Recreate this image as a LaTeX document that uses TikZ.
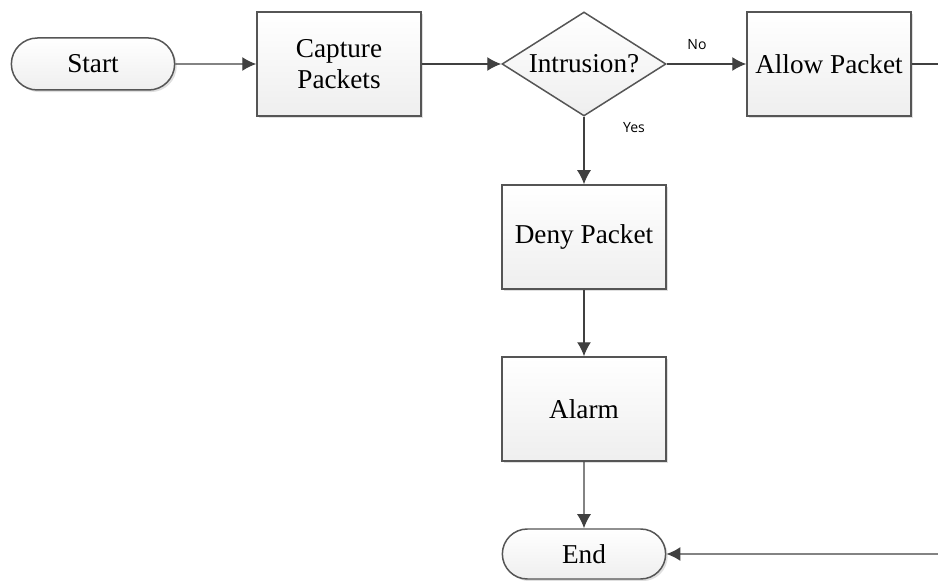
\documentclass[tikz,border=0pt]{standalone}
\usepackage{fontspec}
\setmainfont{Liberation Serif}
\newfontfamily\labelfont{Open Sans}
\usetikzlibrary{shapes.geometric,shapes.misc,arrows.meta,shadows}
\definecolor{linegray}{HTML}{404040}
\definecolor{boxgray}{HTML}{555555}
\begin{document}
\begin{tikzpicture}[
    >={Latex[length=2.8mm,width=2.8mm]},
    every node/.style={font=\fontsize{15.5}{18}\selectfont},
    process/.style={rectangle, draw=boxgray, line width=0.85pt, top color=white, bottom color=gray!13,
        minimum width=3.28cm, minimum height=2.08cm, align=center,
        drop shadow={shadow xshift=1.2pt, shadow yshift=-1.2pt, opacity=0.25, fill=gray}},
    terminal/.style={rounded rectangle, draw=boxgray, line width=0.85pt, top color=white, bottom color=gray!13,
        minimum width=3.5cm, minimum height=1.04cm,
        drop shadow={shadow xshift=1.2pt, shadow yshift=-1.2pt, opacity=0.25, fill=gray}},
    decision/.style={diamond, draw=boxgray, line width=0.85pt, top color=white, bottom color=gray!13,
        minimum width=3.28cm, minimum height=2.08cm, inner sep=0pt, aspect=1.58},
    edge/.style={->, draw=linegray, line width=0.8pt},
    edgelabel/.style={font=\labelfont\fontsize{8}{9}\selectfont, text=black}
]
\useasboundingbox (0,0) rectangle (18.76,11.6);

\node (start)   [terminal] at (1.86,10.32)  {Start};
\node (capture) [process]  at (6.78,10.32)  {Capture\\Packets};
\node (intr)    [decision] at (11.68,10.32) {Intrusion?};
\node (allow)   [process]  at (16.58,10.32) {Allow Packet};
\node (deny)    [process]  at (11.68,6.86)  {Deny Packet};
\node (alarm)   [process]  at (11.68,3.42)  {Alarm};
\node (end)     [terminal, minimum height=1.0cm] at (11.68,0.52) {End};

\coordinate (allowout) at (18.76,10.32);
\coordinate (endin)    at (18.76,0.52);

% Edges
\draw[edge] (start) -- (capture);
\draw[edge] (capture) -- (intr);
\draw[edge] (intr) -- (allow);
\draw[edge] (intr) -- (deny);
\draw[edge] (deny) -- (alarm);
\draw[edge] (alarm) -- (end);
\draw[draw=linegray, line width=0.8pt] (allow) -- (allowout);
\draw[edge] (endin) -- (end);

\node (no)  [edgelabel] at (13.94,10.7) {No};
\node (yes) [edgelabel] at (12.68,9.04) {Yes};

\end{tikzpicture}
\end{document}
